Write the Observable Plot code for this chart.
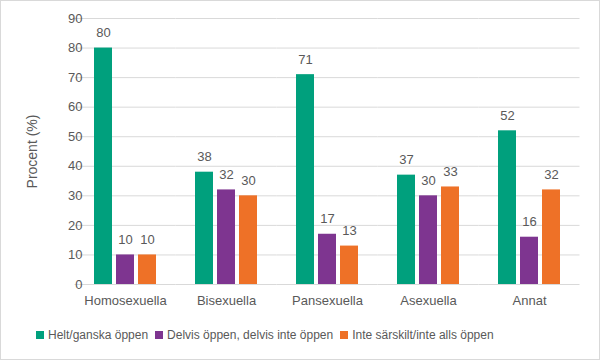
<!DOCTYPE html>
<html><head><meta charset="utf-8">
<script src="https://cdn.jsdelivr.net/npm/d3@7"></script>
<script src="https://cdn.jsdelivr.net/npm/@observablehq/plot@0.6"></script>
<style>
html,body{margin:0;padding:0;background:#fff;}
#wrap{position:relative;width:600px;height:360px;box-sizing:border-box;border:1px solid #d9d9d9;font-family:"Liberation Sans",Arial,sans-serif;color:#595959;overflow:hidden;}
#chart svg{display:block;}
#legend{position:absolute;left:35px;top:327px;display:flex;gap:7px;font-size:12px;color:#595959;white-space:nowrap;}
#legend .it{display:flex;align-items:center;}
#legend .sw{width:8px;height:8px;margin-right:4px;}
</style></head><body>
<div id="wrap"><div id="chart"></div><div id="legend"></div></div>
<script>
const categories = ["Homosexuella","Bisexuella","Pansexuella","Asexuella","Annat"];
const seriesNames = ["Helt/ganska öppen","Delvis öppen, delvis inte öppen","Inte särskilt/inte alls öppen"];
const seriesColors = ["#00a07d","#7e3590","#ee7127"];
const helt = [80,38,71,37,52];
const delvis = [10,32,17,30,16];
const inte = [10,30,13,33,32];
const yTicks = [0,10,20,30,40,50,60,70,80,90];

const values = [helt, delvis, inte];
const data = [];
categories.forEach((c,i)=>seriesNames.forEach((s,j)=>data.push({cat:c, series:s, value:values[j][i]})));

const chart = Plot.plot({
  width: 598, height: 314,
  marginLeft: 74, marginRight: 19, marginTop: 17, marginBottom: 31,
  style: {fontFamily: '"Liberation Sans", Arial, sans-serif', fontSize: "13px", color: "#595959", background: "#fff"},
  fx: {domain: categories, paddingInner: 0.385, paddingOuter: 0.1925, label: null},
  x: {domain: seriesNames, paddingInner: 0.2, paddingOuter: 0, axis: null},
  y: {domain: [0, 90], ticks: yTicks, label: null},
  color: {domain: seriesNames, range: seriesColors},
  marks: [
    Plot.ruleY(yTicks, {stroke: "#d9d9d9", strokeWidth: 1, insetLeft: -19.5, insetRight: -19.5}),
    Plot.axisY({ticks: yTicks, tickSize: 0, tickPadding: 12, fontSize: 13, label: null}),
    Plot.axisY({ticks: [], tickSize: 0, fontSize: 14, label: "Procent (%)", labelAnchor: "center", labelOffset: 67, labelArrow: "none"}),
    Plot.axisFx({anchor: "bottom", tickSize: 0, tickPadding: 11, fontSize: 13, label: null}),
    Plot.barY(data, {fx: "cat", x: "series", y: "value", fill: "series"}),
    Plot.text(data, {fx: "cat", x: "series", y: "value", text: d => String(d.value), dy: -15, fontSize: 13, fill: "#595959"})
  ]
});
document.getElementById("chart").appendChild(chart);

const lg = document.getElementById("legend");
seriesNames.forEach((s,i)=>{
  const it = document.createElement("div"); it.className="it";
  const sw = document.createElement("div"); sw.className="sw"; sw.style.background=seriesColors[i];
  const t = document.createElement("span"); t.textContent = s;
  it.appendChild(sw); it.appendChild(t); lg.appendChild(it);
});
</script></body></html>
